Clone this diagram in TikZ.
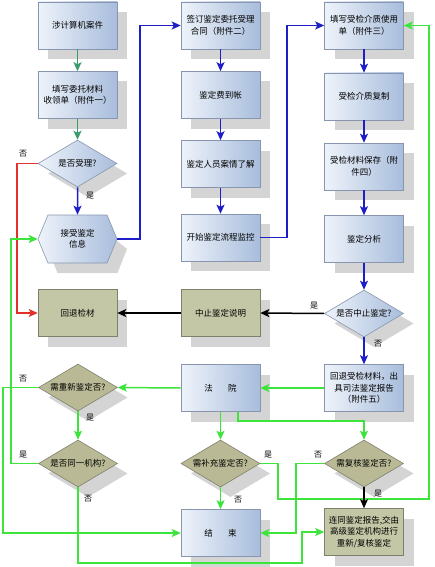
\documentclass[tikz,border=0pt]{standalone}
\usepackage{fontspec}
\setmainfont{Noto Sans CJK SC}
\usetikzlibrary{arrows.meta,shapes.geometric,shapes.symbols}
\definecolor{bL}{HTML}{EEF3FA}
\definecolor{bR}{HTML}{A8BDDC}
\definecolor{bE}{HTML}{8796AE}
\definecolor{oF}{HTML}{C4C7A5}
\definecolor{oE}{HTML}{7E806C}
\definecolor{oD}{HTML}{B9BA95}
\definecolor{gA}{HTML}{3CE43C}
\definecolor{sg}{HTML}{3A9C6C}
\definecolor{bA}{HTML}{1E1EC8}
\definecolor{rA}{HTML}{E2302C}
\definecolor{shadowgray}{RGB}{212,212,212}
\begin{document}
\begin{tikzpicture}[x=1pt,y=-1pt,
  base/.style={line width=0.6pt, font=\fontsize{8.5}{11.5}\selectfont, align=center, inner sep=1pt},
  bbox/.style={base, rectangle, draw=bE, left color=bL, right color=bR, minimum width=79pt, minimum height=47pt},
  obox/.style={base, rectangle, draw=oE, fill=oF, minimum width=79pt, minimum height=47pt},
  bdia/.style={base, diamond, draw=bE, left color=bL, right color=bR, minimum width=79pt, minimum height=47pt, inner sep=0pt},
  odia/.style={base, diamond, draw=oE, fill=oD, minimum width=79pt, minimum height=47pt, inner sep=0pt},
  hexa/.style={base, signal, signal to=west and east, signal pointer angle=135, draw=bE, left color=bL, right color=bR, minimum width=79pt, minimum height=48pt},
  arr/.style={-{Stealth[length=9pt,width=8pt,inset=2pt]}, line width=1.5pt},
  garr/.style={arr, draw=gA},
  barr/.style={arr, draw=bA},
  sarr/.style={arr, draw=sg},
  rarr/.style={arr, draw=rA},
  karr/.style={arr, draw=black},
  lab/.style={font=\fontsize{8}{8}\selectfont, inner sep=0pt}
]
\useasboundingbox (0,0) rectangle (434,567);
% shadows: plain filled paths, offset 10 right and 10 down
\foreach \x/\y in {77.5/25.5, 77.5/95, 77.5/313, 220.5/25.5, 220.5/95, 220.5/164, 220.5/237.5, 220.5/313, 220.5/388, 220.5/533, 364/25.5, 364/96.5, 364/166.5, 364/239, 364/388, 364/532}
  \path[fill=shadowgray] (\x-29.5,\y-13.5) rectangle (\x+49.5,\y+33.5);
\foreach \x/\y in {77.5/163.5, 78/387.5, 78/463.5, 220.5/463.5, 364/313.5, 364/463.5}
  \path[fill=shadowgray] (\x-29.5,\y+10) -- (\x+10,\y-13.5) -- (\x+49.5,\y+10) -- (\x+10,\y+33.5) -- cycle;
\path[fill=shadowgray] (48,249) -- (57.5,225) -- (97.5,225) -- (127,249) -- (117.5,273) -- (57.5,273) -- cycle;
% column 1
\node[bbox] (n1) at (77.5,25.5) {涉计算机案件};
\node[bbox] (n2) at (77.5,95) {填写委托材料\\收领单（附件一）};
\node[bdia] (d1) at (77.5,163.5) {\makebox[0pt]{是否受理?}};
\node[hexa] (hex) at (77.5,239) {接受鉴定\\信息};
\node[obox] (ret) at (77.5,313) {回退检材};
\node[odia] (d4) at (78,387.5) {\makebox[0pt]{需重新鉴定否?}};
\node[odia] (d6) at (78,463.5) {\makebox[0pt]{是否同一机构?}};
% column 2
\node[bbox] (b1) at (220.5,25.5) {签订鉴定委托受理\\合同（附件二）};
\node[bbox] (b2) at (220.5,95) {鉴定费到帐};
\node[bbox] (b3) at (220.5,164) {鉴定人员案情了解};
\node[bbox] (b4) at (220.5,237.5) {开始鉴定流程监控};
\node[obox] (stop) at (220.5,313) {中止鉴定说明};
\node[bbox] (court) at (220.5,388) {法\hspace{1.8em}院};
\node[odia] (d5) at (220.5,463.5) {\makebox[0pt]{需补充鉴定否?}};
\node[bbox] (end) at (220.5,533) {结\hspace{1.8em}束};
% column 3
\node[bbox] (c1) at (364,25.5) {填写受检介质使用\\单（附件三）};
\node[bbox] (c2) at (364,96.5) {受检介质复制};
\node[bbox] (c3) at (364,166.5) {受检材料保存（附\\件四）};
\node[bbox] (c4) at (364,239) {鉴定分析};
\node[bdia] (d3) at (364,313.5) {\makebox[0pt]{是否中止鉴定?}};
\node[bbox] (c5) at (364,388) {回退受检材料，出\\具司法鉴定报告\\（附件五）};
\node[odia] (d7) at (364,463.5) {\makebox[0pt]{需复核鉴定否?}};
\node[obox] (fin) at (364,532) {连同鉴定报告,交由\\高级鉴定机构进行\\重新/复核鉴定};
% routing coordinates
\coordinate (vG0) at (3,0);
\coordinate (vG1) at (11,0);
\coordinate (vR) at (17,0);
\coordinate (vB1) at (140,0);
\coordinate (xC) at (238,0);
\coordinate (vG3) at (278,0);
\coordinate (vB2) at (287,0);
\coordinate (vG4) at (296,0);
\coordinate (vG5) at (302,0);
\coordinate (vG2) at (429,0);
\coordinate (hG1) at (0,421);
\coordinate (hG2) at (0,499);
\coordinate (hG3) at (0,563);
% connectors
\draw[sarr] (n1) -- (n2);
\draw[sarr] (n2) -- (d1);
\draw[barr] (d1) -- (hex);
\draw[rarr] (d1.west) -- (d1.west -| vR) |- (ret.west);
\draw[barr] (hex.east) -- (hex.east -| vB1) |- (b1.west);
\draw[barr] (b1) -- (b2);
\draw[barr] (b2) -- (b3);
\draw[barr] (b3) -- (b4);
\draw[barr] (b4.east) -- (b4.east -| vB2) |- (c1.west);
\draw[barr] (c1) -- (c2);
\draw[barr] (c2) -- (c3);
\draw[barr] (c3) -- (c4);
\draw[barr] (c4) -- (d3);
\draw[barr] (d3) -- (c5);
\draw[karr] (d3.west) -- (stop.east);
\draw[karr] (stop.west) -- (ret.east);
\draw[garr] (c5.west) -- (court.east);
\draw[garr] (court.west) -- (d4.east);
\draw[garr] (court.south) -- (d5.north);
\draw[garr] (court.south -| xC) -- (xC |- hG1) -| (d7.north);
\draw[garr] (d5.south) -- (end.north);
\draw[garr] (d5.east) -- (d5.east -| vG3) -- (vG3 |- hG2) -- (vG2 |- hG2) |- (c1.east);
\draw[garr] (d7.west) -- (d7.west -| vG4) |- (end.east);
\draw[garr] (d6.south) -- (d6.south |- hG3) -- (vG5 |- hG3) |- (fin.west);
\draw[garr] (d4.west) -- (d4.west -| vG0) |- (end.west);
\draw[garr] (d4.south) -- (d6.north);
\draw[garr] (d6.west) -- (d6.west -| vG1) |- (hex.west);
\draw[karr] (d7.south) -- (fin.north);
% labels
\node[lab] (l1) at (23,154) {否};
\node[lab] (l2) at (90,196) {是};
\node[lab] (l3) at (314,306) {是};
\node[lab] (l4) at (378,344) {否};
\node[lab] (l5) at (23,379) {否};
\node[lab] (l6) at (90,418) {是};
\node[lab] (l7) at (23,455) {是};
\node[lab] (l8) at (88,499) {否};
\node[lab] (l9) at (268,455) {是};
\node[lab] (l10) at (238,500) {否};
\node[lab] (l11) at (318,455) {否};
\node[lab] (l12) at (378,494) {是};
\end{tikzpicture}
\end{document}
